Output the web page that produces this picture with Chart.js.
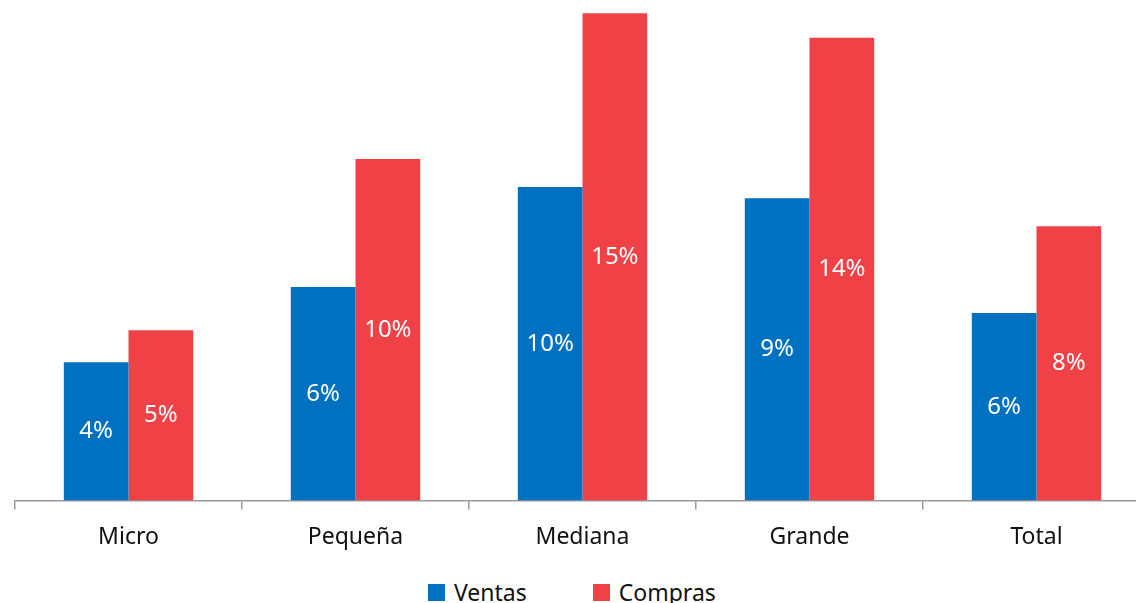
<!DOCTYPE html>
<html>
<head>
<meta charset="utf-8">
<script src="https://cdn.jsdelivr.net/npm/chart.js@4/dist/chart.umd.min.js"></script>
<style>
  html, body { margin: 0; padding: 0; background: #fff; overflow: hidden; }
  #wrap { position: relative; width: 1150px; height: 565px; }
  #legend {
    position: absolute; left: 428px; top: 576px;
    display: flex; align-items: center;
    font-family: "Noto Sans", sans-serif; font-size: 23px; color: #111;
  }
  .item { display: flex; align-items: center; }
  .item + .item { margin-left: 66px; }
  .box { width: 17px; height: 17px; margin-right: 9px; }
</style>
</head>
<body>
<div id="wrap"><canvas id="chart"></canvas></div>
<div id="legend">
  <div class="item"><span class="box" style="background:#0070C0"></span>Ventas</div>
  <div class="item"><span class="box" style="background:#EF4146"></span>Compras</div>
</div>
<script>
  // Categories and values (percent)
  const categories = ['Micro', 'Pequeña', 'Mediana', 'Grande', 'Total'];
  const ventas = [4.2, 6.48, 9.52, 9.18, 5.69];
  const compras = [5.17, 10.37, 14.8, 14.05, 8.33];

  // Draw the percentage inside each bar, vertically centred
  const insideLabels = {
    id: 'insideLabels',
    afterDatasetsDraw(chart) {
      const ctx = chart.ctx;
      ctx.save();
      ctx.font = '24px "Noto Sans", sans-serif';
      ctx.fillStyle = '#ffffff';
      ctx.textAlign = 'center';
      ctx.textBaseline = 'middle';
      chart.data.datasets.forEach((ds, i) => {
        chart.getDatasetMeta(i).data.forEach((bar, j) => {
          const y = (bar.y + bar.base) / 2;
          ctx.fillText(Math.round(ds.data[j]) + '%', bar.x, y);
        });
      });
      ctx.restore();
    }
  };

  new Chart(document.getElementById('chart'), {
    type: 'bar',
    data: {
      labels: categories,
      datasets: [
        { label: 'Ventas', data: ventas, backgroundColor: '#0070C0' },
        { label: 'Compras', data: compras, backgroundColor: '#EF4146' }
      ]
    },
    options: {
      responsive: true,
      maintainAspectRatio: false,
      animation: false,
      layout: { padding: { left: 15, right: 0, top: 0, bottom: 0 } },
      datasets: { bar: { categoryPercentage: 0.57, barPercentage: 1 } },
      scales: {
        x: {
          grid: {
            display: true,
            drawOnChartArea: false,
            drawTicks: true,
            tickLength: 9,
            color: '#9a9a9a',
            lineWidth: 1.5
          },
          border: { display: true, color: '#9a9a9a', width: 1.5 },
          ticks: {
            padding: 14,
            color: '#111',
            font: { family: '"Noto Sans", sans-serif', size: 23 }
          }
        },
        y: { display: false, min: 0, max: 15.2 }
      },
      plugins: {
        legend: { display: false },
        tooltip: { enabled: false }
      }
    },
    plugins: [insideLabels]
  });
</script>
</body>
</html>
